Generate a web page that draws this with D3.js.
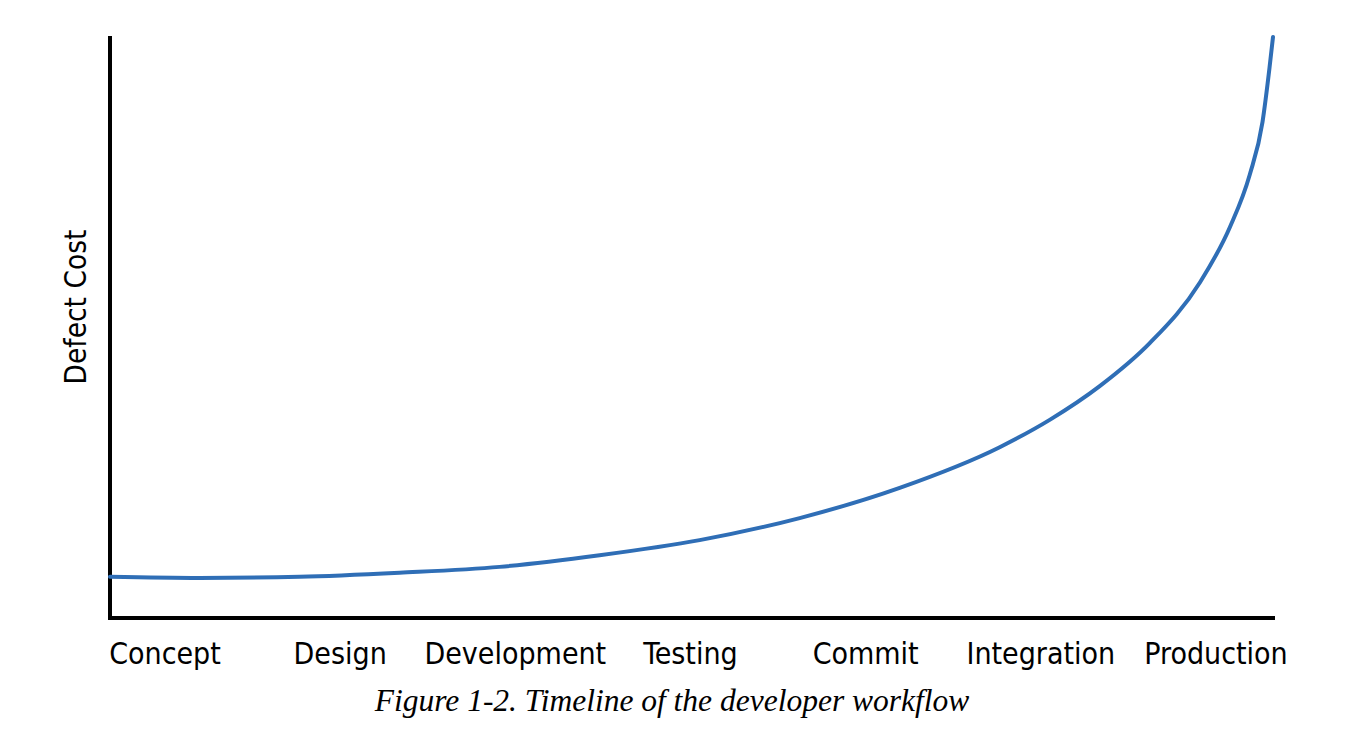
<html>
<head>
    <script src="https://d3js.org/d3.v7.min.js"></script>
    <style>
        body { margin: 0; background: #fff; }
        .lbl { font-family: "DejaVu Sans Condensed", "Liberation Sans Narrow", sans-serif; fill: #000; }
    </style>
</head>
<body>
    <svg id="chart" width="1350" height="736"></svg>
    <script>
        // workflow stages along the bottom
        var stages = ["Concept", "Design", "Development", "Testing", "Commit", "Integration", "Production"];

        // position along timeline (0-100) and relative defect cost (0-100)
        var timeline = [0, 7.7, 16.3, 24.9, 33.5, 42.1, 50.7, 59.3, 67.9, 76.5, 80.8, 85.1, 89.4, 93.7, 96.3, 98.0, 99.1, 99.7, 100];
        var cost =     [7.1, 6.9, 7.1, 7.8, 8.8, 10.8, 13.4, 17.2, 22.4, 29.4, 34.1, 39.9, 47.3, 57.7, 67.3, 76.3, 85.4, 94.7, 100];

        var yLabel = "Defect Cost";
        var caption = "Figure 1-2. Timeline of the developer workflow";

        var svg = d3.select("#chart");

        var mLeft = 110, mRight = 1275, mTop = 37, mBottom = 618;

        var xCurve = d3.scaleLinear().domain([0, 100]).range([mLeft, 1273]);
        var y = d3.scaleLinear().domain([0, 100]).range([mBottom, mTop]);
        var xStage = d3.scalePoint().domain(stages).range([165, 1216]);

        // axes as plain lines
        svg.append("line")
            .attr("x1", mLeft).attr("y1", y(100) - 1)
            .attr("x2", mLeft).attr("y2", mBottom + 2)
            .attr("stroke", "#000").attr("stroke-width", 4);
        svg.append("line")
            .attr("x1", mLeft - 2).attr("y1", mBottom)
            .attr("x2", mRight).attr("y2", mBottom)
            .attr("stroke", "#000").attr("stroke-width", 4);

        var pts = timeline.map((d, i) => [d, cost[i]]);
        var line = d3.line()
            .x(d => xCurve(d[0]))
            .y(d => y(d[1]))
            .curve(d3.curveMonotoneX);

        svg.append("path")
            .datum(pts)
            .attr("d", line)
            .attr("fill", "none")
            .attr("stroke", "#2f6eb6")
            .attr("stroke-width", 4)
            .attr("stroke-linecap", "round");

        svg.selectAll("text.stage")
            .data(stages)
            .enter()
            .append("text")
            .attr("class", "lbl stage")
            .attr("x", d => xStage(d))
            .attr("y", 664)
            .attr("text-anchor", "middle")
            .attr("font-size", 30)
            .text(d => d);

        svg.append("text")
            .attr("class", "lbl")
            .attr("transform", "translate(86,307) rotate(-90)")
            .attr("text-anchor", "middle")
            .attr("font-size", 29.5)
            .text(yLabel);

        svg.append("text")
            .attr("x", 672)
            .attr("y", 711)
            .attr("text-anchor", "middle")
            .attr("font-family", "Liberation Serif, serif")
            .attr("font-style", "italic")
            .attr("font-size", 31.5)
            .text(caption);
    </script>
</body>
</html>
